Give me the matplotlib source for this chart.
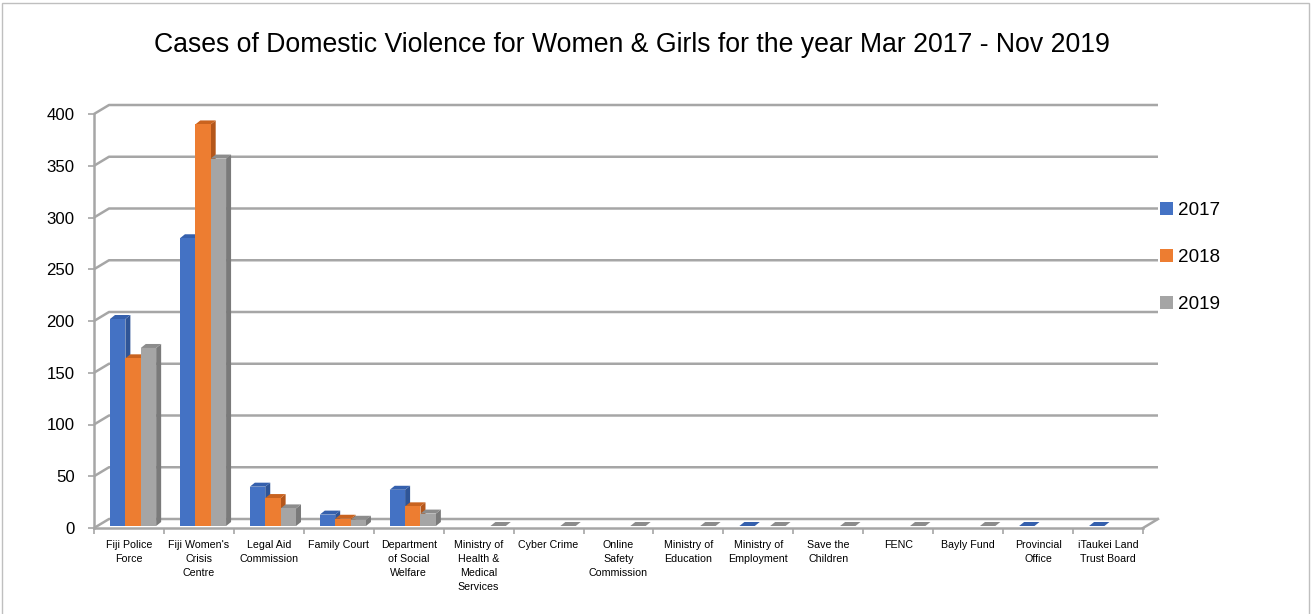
import numpy as np
import matplotlib

matplotlib.use("Agg")
import matplotlib.pyplot as plt
from matplotlib.patches import Polygon, Rectangle, Patch

plt.rcParams["font.family"] = ["Liberation Sans", "DejaVu Sans"]

categories = [
    "Fiji Police\nForce", "Fiji Women's\nCrisis\nCentre", "Legal Aid\nCommission",
    "Family Court", "Department\nof Social\nWelfare", "Ministry of\nHealth &\nMedical\nServices",
    "Cyber Crime", "Online\nSafety\nCommission", "Ministry of\nEducation",
    "Ministry of\nEmployment", "Save the\nChildren", "FENC", "Bayly Fund",
    "Provincial\nOffice", "iTaukei Land\nTrust Board",
]
years = ["2017", "2018", "2019"]
nan = np.nan
cases_2017 = [200, 278, 38, 11, 35, nan, nan, nan, nan, 0, nan, nan, nan, 0, 0]
cases_2018 = [162, 388, 27, 7, 19, nan, nan, nan, nan, nan, nan, nan, nan, nan, nan]
cases_2019 = [172, 355, 17, 6, 12, 0, 0, 0, 0, 0, 0, 0, 0, nan, nan]
series = [cases_2017, cases_2018, cases_2019]
yticks = np.arange(0, 401, 50)
title = "Cases of Domestic Violence for Women & Girls for the year Mar 2017 - Nov 2019"

front_col = ["#4472C4", "#ED7D31", "#A5A5A5"]
side_col = ["#2F5597", "#B4561A", "#7A7A7A"]
top_col = ["#3560AD", "#C9631F", "#8C8C8C"]
grid_col = "#A6A6A6"

W, H = 1313, 614
fig = plt.figure(figsize=(W / 100, H / 100), dpi=100)
rend = fig.canvas.get_renderer()


def size_for(s, target_w, base=10.0):
    # font size giving the text width seen on the reference (px)
    t = fig.text(0, 0, s, fontsize=base)
    bw = t.get_window_extent(rend).width
    t.remove()
    return base * target_w / bw


def line_gap(fs):
    t1 = fig.text(0, 0, "Fiji Police", fontsize=fs)
    t2 = fig.text(0, 0, "Fiji Police\nForce", fontsize=fs, linespacing=1.0)
    gap = t2.get_window_extent(rend).height - t1.get_window_extent(rend).height
    t1.remove()
    t2.remove()
    return gap


fs_title = size_for(title, 960)
fs_y = size_for("400", 28)
fs_x = size_for("Fiji Police", 46)
fs_leg = size_for("2017", 42)
ls_x = 15 / line_gap(fs_x)

# front plane of the 3D box, in pixels
left, right, base, top = 94, 1143, 528, 114
ax = fig.add_axes([left / W, (H - base) / H, (right - left) / W, (base - top) / H])
n = len(categories)
ax.set_xlim(-0.5, n - 0.5)
ax.set_ylim(0, 400)
ax.patch.set_visible(False)
for s in ["top", "right"]:
    ax.spines[s].set_visible(False)
for s in ["left", "bottom"]:
    ax.spines[s].set_color(grid_col)
    ax.spines[s].set_linewidth(1.8)


def px(dx, dy):
    inv = ax.transData.inverted()
    x0, y0 = inv.transform((0, 0))
    x1, y1 = inv.transform((dx, dy))
    return x1 - x0, y1 - y0


fdx, fdy = px(15, 9)   # floor depth
bdx, bdy = px(5, 4)    # bar depth
odx, ody = px(2, 2)    # bar front inset into floor

# walls / gridlines
x0, x1 = -0.5, n - 0.5
for v in yticks:
    ax.plot([x0, x0 + fdx, x1 + fdx], [v, v + fdy, v + fdy], color=grid_col,
            lw=1.8, clip_on=False, zorder=1, solid_capstyle="butt")
ax.plot([x1, x1 + fdx], [0, fdy], color=grid_col, lw=1.8, clip_on=False, zorder=1)

# bars
w = 0.22
for i in range(n):
    for j, vals in enumerate(series):
        v = vals[i]
        if np.isnan(v):
            continue
        xl = i - 0.5 + 0.2 + j * w + odx
        xr = xl + w
        yb = ody
        yt = v + ody
        z = 3 + i * 0.01 + j * 0.001
        ax.add_patch(Polygon([(xr, yb), (xr + bdx, yb + bdy), (xr + bdx, yt + bdy), (xr, yt)],
                             closed=True, fc=side_col[j], ec="none", clip_on=False, zorder=z))
        ax.add_patch(Polygon([(xl, yt), (xr, yt), (xr + bdx, yt + bdy), (xl + bdx, yt + bdy)],
                             closed=True, fc=top_col[j], ec="none", clip_on=False, zorder=z))
        if v > 0:
            ax.add_patch(Rectangle((xl, yb), w, v, fc=front_col[j], ec="none",
                                   clip_on=False, zorder=z))

ax.set_yticks(yticks)
ax.tick_params(axis="y", length=4, width=1.2, color=grid_col, pad=10, labelsize=fs_y)
ax.set_xticks(range(n))
ax.set_xticklabels(categories, fontsize=fs_x, linespacing=ls_x, va="top")
ax.tick_params(axis="x", which="major", length=0, pad=9)
ax.set_xticks(np.arange(-0.5, n, 1), minor=True)
ax.tick_params(axis="x", which="minor", length=4, width=1.2, color=grid_col)

fig.text(632 / W, 1 - 45 / H, title, ha="center", va="center", fontsize=fs_title)

fpx = fs_leg * 100 / 72
handles = [Patch(fc=c, ec="none") for c in front_col]
fig.legend(handles, years, loc="upper left", bbox_to_anchor=(1160 / W, 1 - (212 - fpx * 0.55) / H),
           frameon=False, fontsize=fs_leg, handlelength=13 / fpx, handleheight=13 / fpx,
           handletextpad=5 / fpx, labelspacing=(49 - fpx) / fpx, borderpad=0, borderaxespad=0)

fig.patches.append(Rectangle((2 / W, -0.01), 1307 / W, 1 - 3 / H + 0.01, transform=fig.transFigure,
                             fill=False, ec="#BFBFBF", lw=1))

fig.savefig("out.png", dpi=100)
